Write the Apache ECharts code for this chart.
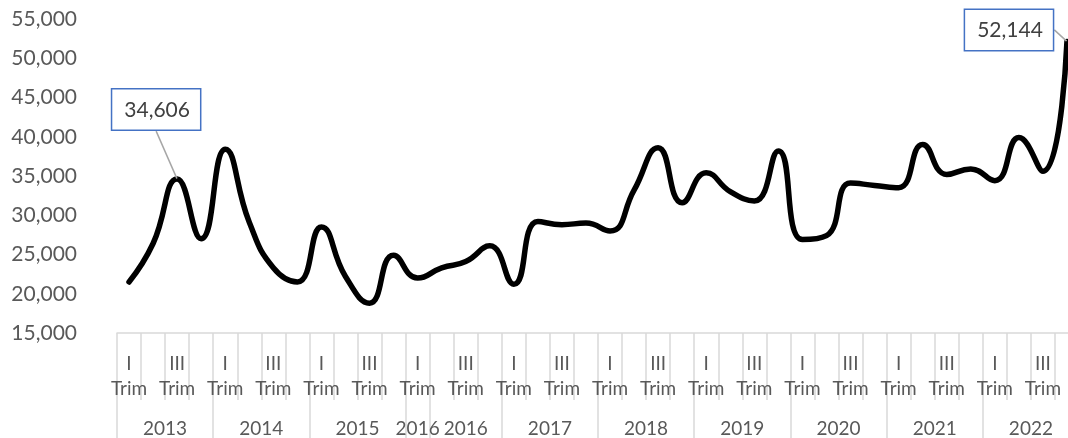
<!DOCTYPE html>
<html>
<head>
<meta charset="utf-8">
<script src="https://cdn.jsdelivr.net/npm/echarts@6/dist/echarts.min.js"></script>
<style>
html,body{margin:0;padding:0;background:#fff;overflow:hidden;width:1068px;height:438px;}
#c{width:1079px;height:438px;}
</style>
</head>
<body>
<div id="c"></div>
<script>
// ---- data ----
var quarterNames = ['I Trim', 'II Trim', 'III Trim', 'IV Trim'];
var yearGroups = ['2013', '2014', '2015', '2016', '2016', '2017', '2018', '2019', '2020', '2021', '2022'];
var yearSpans  = [4, 4, 4, 1, 3, 4, 4, 4, 4, 4, 4];
var values = [
  21500, 26400, 34606, 27000,
  38400, 29100, 23300, 21500,
  28500, 22200, 18800, 24900,
  22000, 23300, 24100, 26100,
  21200, 29200, 28800, 29000,
  28000, 33200, 38600, 31600,
  35400, 33000, 31800, 38200,
  26900, 27400, 34100, 33800,
  33500, 39000, 35200, 35900,
  34400, 39900, 35600, 52144
];
var yTicks = [15000, 20000, 25000, 30000, 35000, 40000, 45000, 50000, 55000];
var labeledIndices = [2, 39];

// ---- derived ----
var categories = [];
(function(){
  var q = 0;
  yearGroups.forEach(function(y, gi){
    for (var k = 0; k < yearSpans[gi]; k++) {
      categories.push(quarterNames[q % 4] + ' ' + y);
      q++;
    }
  });
})();
var boundaries = [0], centers = [], centerLabel = {};
(function(){
  var acc = 0;
  yearSpans.forEach(function(s, i){
    var c = acc + s / 2;
    centers.push(c);
    centerLabel[c] = yearGroups[i];
    acc += s;
    boundaries.push(acc);
  });
})();

var seriesData = values.map(function(v, i){
  if (labeledIndices.indexOf(i) >= 0) {
    return {
      value: v,
      label: {
        show: true,
        position: 'top',
        formatter: function(p){ return p.value.toLocaleString('en-US'); },
        fontFamily: 'Lato',
        fontSize: 21,
        color: '#404040',
        backgroundColor: '#ffffff',
        borderColor: '#4472C4',
        borderWidth: 1.5,
        padding: [10, 10, 9, 12]
      },
      labelLine: { show: true, lineStyle: { color: '#a6a6a6', width: 1.5 } }
    };
  }
  return v;
});

var gray = '#d9d9d9';
var txt = '#595959';
var chart = echarts.init(document.getElementById('c'), null, {renderer: 'canvas'});
chart.setOption({
  animation: false,
  backgroundColor: '#ffffff',
  grid: { left: 117, right: 0, top: 19, bottom: 105, containLabel: false },
  xAxis: [
    {
      type: 'category',
      data: categories,
      boundaryGap: true,
      position: 'bottom',
      axisLine: { show: true, lineStyle: { color: gray, width: 1.5 } },
      axisTick: { show: true, interval: 0, length: 67, lineStyle: { color: gray, width: 1.5 } },
      axisLabel: {
        interval: 1,
        margin: 18,
        fontFamily: 'Lato',
        fontSize: 19,
        lineHeight: 25,
        color: txt,
        formatter: function(v){ var p = v.split(' '); return p[0] + '\n' + p[1]; }
      },
      splitLine: { show: false }
    },
    {
      type: 'value',
      min: 0,
      max: categories.length,
      position: 'bottom',
      offset: 0,
      axisLine: { show: false },
      axisTick: { show: true, customValues: boundaries, length: 105, lineStyle: { color: gray, width: 1.5 } },
      axisLabel: {
        customValues: centers,
        margin: 86,
        fontFamily: 'Lato',
        fontSize: 19,
        color: txt,
        formatter: function(v){ return centerLabel[v]; }
      },
      splitLine: { show: false }
    }
  ],
  yAxis: {
    type: 'value',
    min: yTicks[0],
    max: yTicks[yTicks.length - 1],
    interval: yTicks[1] - yTicks[0],
    axisLine: { show: false },
    axisTick: { show: false },
    splitLine: { show: false },
    axisLabel: {
      margin: 40,
      fontFamily: 'Lato',
      fontSize: 21,
      color: txt,
      formatter: function(v){ return v.toLocaleString('en-US'); }
    }
  },
  series: [{
    type: 'line',
    xAxisIndex: 0,
    data: seriesData,
    smooth: 0.5,
    showSymbol: true,
    symbol: 'circle',
    symbolSize: 1,
    itemStyle: { color: '#000' },
    lineStyle: { color: '#000', width: 5.5, cap: 'round', join: 'round' },
    labelLayout: function(p){
      if (p.dataIndex === 2) return { dx: -21, dy: -44 };
      if (p.dataIndex === 39) return { dx: -58, dy: 14 };
      return {};
    }
  }]
});
</script>
</body>
</html>
